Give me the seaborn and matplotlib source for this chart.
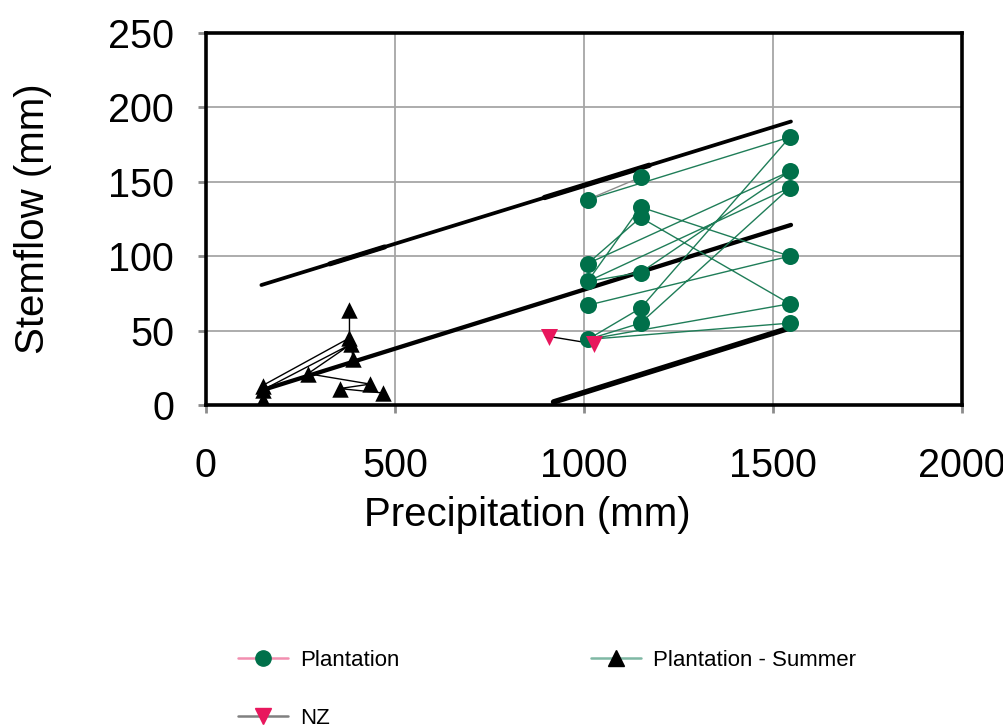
import matplotlib
matplotlib.use("Agg")
import matplotlib.pyplot as plt
import seaborn as sns
import numpy as np
from matplotlib.lines import Line2D

# ---------------- data ----------------
# Plantation - Summer (black triangles)
summer_x = [150, 150, 150, 270, 380, 380, 385, 389, 354, 435, 470]
summer_y = [3, 10, 13, 21, 64, 45, 41, 31, 11, 14, 8]
summer_links = [(0, 1), (1, 2), (2, 5), (1, 6), (6, 3), (4, 5), (5, 6), (6, 7),
                (3, 9), (9, 8), (8, 10)]

# Plantation (green circles)
plant_x = [1010, 1010, 1010, 1010, 1010,
           1150, 1150, 1150, 1150, 1150, 1150,
           1545, 1545, 1545, 1545, 1545, 1545]
plant_y = [138, 95, 83, 67, 44,
           153, 133, 126, 89, 65, 55,
           180, 157, 146, 100, 68, 55]
plant_links = [(0, 11), (9, 11), (1, 12), (8, 12), (2, 13), (10, 13), (6, 14),
               (3, 14), (7, 15), (4, 15), (4, 16), (1, 7), (2, 6), (2, 8),
               (4, 9), (4, 10)]
plant_gray_links = [(0, 5)]

# NZ (pink inverted triangles)
nz_x = [909, 1028]
nz_y = [46, 41]

# reference lines (thick black)
upper_x = [147, 1548]
upper_y = [80.6, 190.5]
middle_x = [150, 1548]
middle_y = [10, 121]
lower_x = [920, 1548]
lower_y = [2, 52]
overlay1_x = [328, 473]
overlay1_y = [94.8, 106.2]
overlay2_x = [896, 1173]
overlay2_y = [139.4, 161.1]

x_ticks = [0, 500, 1000, 1500, 2000]
y_ticks = [0, 50, 100, 150, 200, 250]
legend_labels = ["Plantation", "NZ", "Plantation - Summer"]

GREEN = "#00704a"
GREEN_LINE = "#1f7d58"
PINK = "#e8175d"


def seg_arrays(xs, ys, links):
    sx, sy = [], []
    for a, b in links:
        sx += [xs[a], xs[b], np.nan]
        sy += [ys[a], ys[b], np.nan]
    return sx, sy


# ---------------- plot ----------------
sns.set_theme(style="white")
plt.rcParams["font.family"] = ["Liberation Sans", "DejaVu Sans"]
plt.rcParams["text.color"] = "black"
plt.rcParams["axes.labelcolor"] = "black"

fig = plt.figure(figsize=(10.04, 7.27), dpi=100)
ax = fig.add_axes([0.205, 0.443, 0.753, 0.5116])

ax.set_xlim(0, 2000)
ax.set_ylim(0, 250)
ax.set_xticks(x_ticks)
ax.set_yticks(y_ticks)
ax.grid(True, color="#a6a6a6", lw=1.3, zorder=0)
ax.set_axisbelow(True)

# thick reference lines
ax.plot(upper_x, upper_y, color="black", lw=2.7, solid_capstyle="round", zorder=2)
ax.plot(middle_x, middle_y, color="black", lw=3.1, solid_capstyle="round", zorder=2)
ax.plot(lower_x, lower_y, color="black", lw=4.0, solid_capstyle="round", zorder=2)
ax.plot(overlay1_x, overlay1_y, color="black", lw=3.6, zorder=2)
ax.plot(overlay2_x, overlay2_y, color="black", lw=3.8, zorder=2)

# connecting lines
sx, sy = seg_arrays(summer_x, summer_y, summer_links)
ax.plot(sx, sy, color="black", lw=1.0, zorder=3)
px, py = seg_arrays(plant_x, plant_y, plant_links)
ax.plot(px, py, color=GREEN_LINE, lw=1.0, zorder=3)
gx, gy = seg_arrays(plant_x, plant_y, plant_gray_links)
ax.plot(gx, gy, color="#8c8c8c", lw=1.0, zorder=3)
ax.plot(nz_x, nz_y, color="black", lw=1.0, zorder=3)

# markers
sns.scatterplot(x=summer_x, y=summer_y, marker="^", color="black", s=140,
                edgecolor="black", linewidth=0, ax=ax, zorder=4)
sns.scatterplot(x=plant_x, y=plant_y, marker="o", color=GREEN, s=150,
                edgecolor=GREEN, linewidth=0, ax=ax, zorder=4)
sns.scatterplot(x=nz_x, y=nz_y, marker="v", color=PINK, s=150,
                edgecolor=PINK, linewidth=0, ax=ax, zorder=5)

for s in ax.spines.values():
    s.set_color("black")
    s.set_linewidth(2.6)
    s.set_visible(True)

ax.tick_params(axis="both", direction="out", length=6, width=2,
               color="#8c8c8c", labelcolor="black", labelsize=28.5,
               bottom=True, left=True)
ax.tick_params(axis="y", pad=17)
ax.tick_params(axis="x", pad=24)

ax.set_xlabel("Precipitation (mm)", fontsize=29)
ax.xaxis.set_label_coords(0.4246, -0.245)
ax.set_ylabel("Stemflow (mm)", fontsize=29, labelpad=40)

handles = [
    Line2D([], [], color="#f28fb0", lw=1.8, marker="o", markersize=11,
           markerfacecolor=GREEN, markeredgecolor=GREEN),
    Line2D([], [], color="#808080", lw=1.8, marker="v", markersize=11,
           markerfacecolor=PINK, markeredgecolor=PINK),
    Line2D([], [], color="#7fb8a4", lw=1.8, marker="^", markersize=11,
           markerfacecolor="black", markeredgecolor="black"),
]
fig.legend(handles, legend_labels, loc="upper left",
           bbox_to_anchor=(0.237, 0.1065), ncol=2, frameon=False,
           fontsize=16, handlelength=2.25, handletextpad=0.55,
           columnspacing=8.6, labelspacing=1.68, borderpad=0, borderaxespad=0)

fig.savefig("out.png", dpi=100)
